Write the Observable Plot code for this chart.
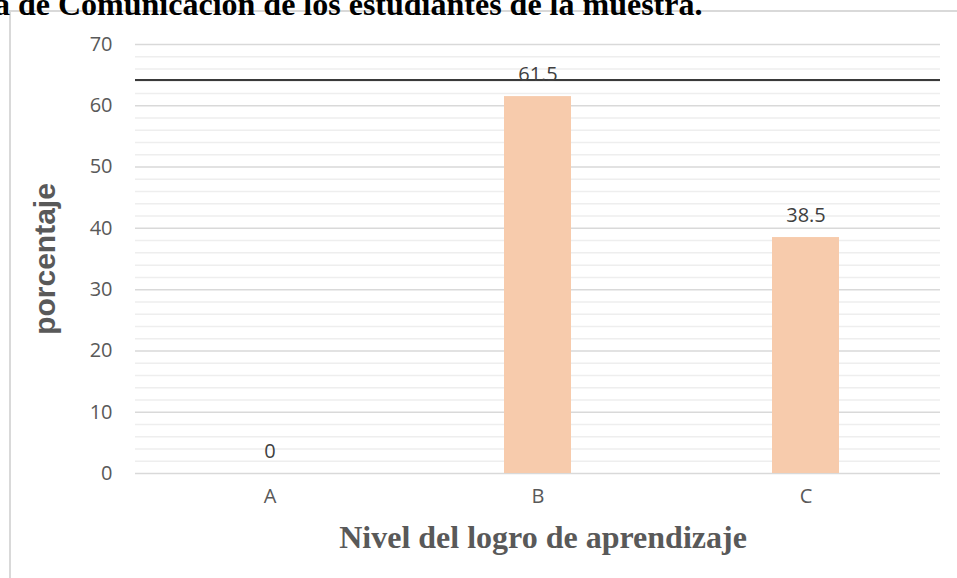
<!DOCTYPE html>
<html>
<head>
<meta charset="utf-8">
<script src="https://cdn.jsdelivr.net/npm/d3@7"></script>
<script src="https://cdn.jsdelivr.net/npm/@observablehq/plot@0.6"></script>
<style>
  body { margin: 0; background: #fff; }
  #wrap { position: relative; width: 957px; height: 578px; overflow: hidden; background: #fff; }
  #chart { position: absolute; left: 0; top: 0; }
  #frame { position: absolute; left: 9px; top: 10px; width: 960px; height: 580px;
           border-left: 2px solid #d9d9d9; border-top: 2px solid #d9d9d9; }
  #title { position: absolute; left: -6px; top: -14px; line-height: 32px;
           font: bold 32px "Liberation Serif", "Times New Roman", serif; color: #000; white-space: nowrap; }
</style>
</head>
<body>
<div id="wrap">
  <div id="frame"></div>
  <div id="chart"></div>
  <div id="title">a de Comunicación de los estudiantes de la muestra.</div>
</div>
<script>
// ---- data ----
const niveles = ["A", "B", "C"];
const porcentajes = [0, 61.5, 38.5];
const ticksMayores = [0, 10, 20, 30, 40, 50, 60, 70];
const ticksMenores = [2, 4, 6, 8, 12, 14, 16, 18, 22, 24, 26, 28, 32, 34, 36, 38,
                      42, 44, 46, 48, 52, 54, 56, 58, 62, 64, 66, 68];
const lineaReferencia = [64.2];
const tituloY = "porcentaje";
const tituloX = "Nivel del logro de aprendizaje";

const datos = niveles.map((n, i) => ({ nivel: n, pct: porcentajes[i] }));

const chart = Plot.plot({
  width: 957,
  height: 578,
  marginLeft: 135,
  marginRight: 17,
  marginTop: 44,
  marginBottom: 105,
  style: { fontFamily: '"Open Sans", sans-serif', fontSize: "20px", color: "#595959", background: "transparent" },
  x: { domain: niveles, paddingInner: 0.75, paddingOuter: 0.375 },
  y: { domain: [0, 70] },
  marks: [
    Plot.ruleY(ticksMenores, { stroke: "#eeeeee", strokeWidth: 1.5 }),
    Plot.ruleY(ticksMayores, { stroke: "#d9d9d9", strokeWidth: 1.5 }),
    Plot.barY(datos, { x: "nivel", y: "pct", fill: "#f7cbac" }),
    Plot.ruleY(lineaReferencia, { stroke: "#3a3a3a", strokeWidth: 2 }),
    Plot.text(datos, { x: "nivel", y: "pct", text: d => String(d.pct), dy: -22, fill: "#404040", fontSize: 20 }),
    Plot.axisY({ ticks: ticksMayores, tickSize: 0, tickPadding: 23, label: null, fontSize: 20 }),
    Plot.axisX({ tickSize: 0, tickPadding: 15, label: null, fontSize: 20 }),
    Plot.text([tituloY], { frameAnchor: "left", textAnchor: "middle", text: d => d, rotate: -90, dx: -90,
      fontFamily: '"Liberation Sans", Arial, sans-serif', fontWeight: "bold", fontSize: 30, fill: "#595959" }),
    Plot.text([tituloX], { frameAnchor: "bottom", textAnchor: "middle", text: d => d, lineAnchor: "bottom", dy: 74, dx: 5,
      fontFamily: '"Liberation Serif", "Times New Roman", serif', fontWeight: "bold", fontSize: 32, fill: "#595959" })
  ]
});
document.getElementById("chart").appendChild(chart);
</script>
</body>
</html>
